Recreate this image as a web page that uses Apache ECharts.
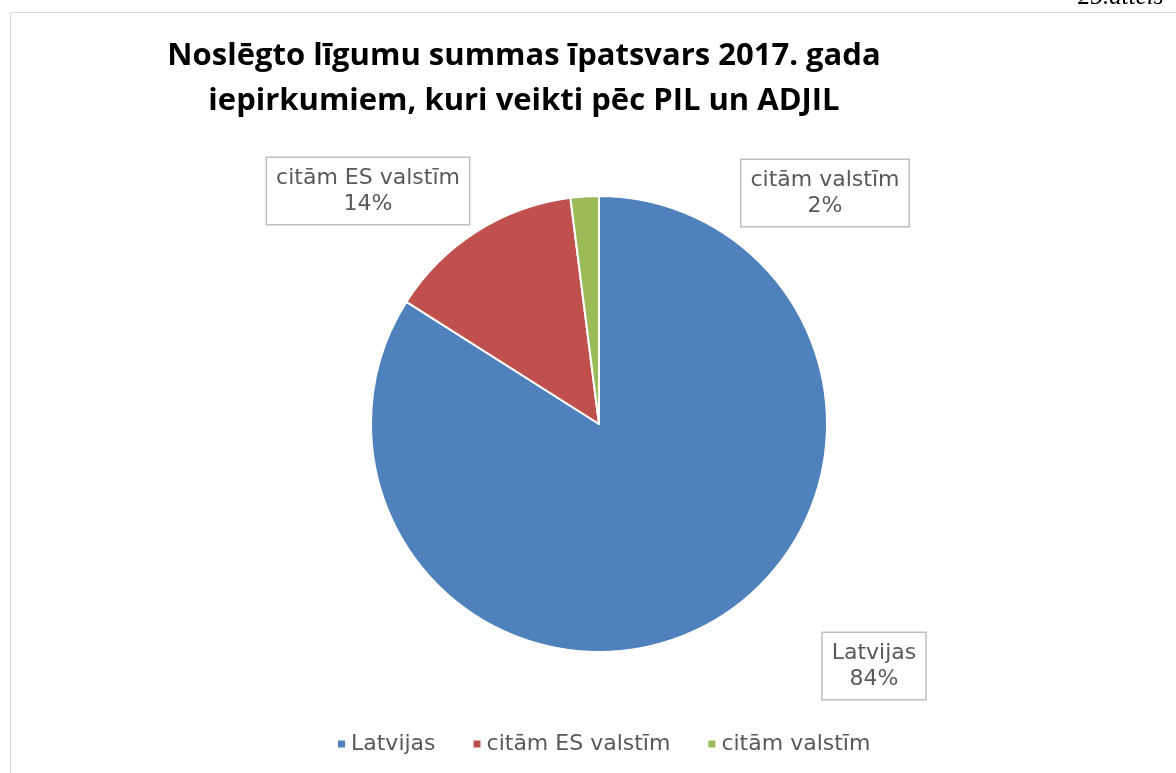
<!DOCTYPE html>
<html>
<head>
<meta charset="utf-8">
<script src="https://cdn.jsdelivr.net/npm/echarts@6/dist/echarts.min.js"></script>
<style>
  html, body { margin: 0; padding: 0; background: #fff; }
  #main { width: 1176px; height: 773px; }
</style>
</head>
<body>
<div id="main"></div>
<script>
// dati no attēla
var categories = ['Latvijas', 'citām ES valstīm', 'citām valstīm'];
var shares = [84, 14, 2];
var colors = ['#4f81bd', '#c0504d', '#9bbb59'];
// etiķešu centri (px)
var labelPos = [[874, 666], [368, 191], [825, 193]];

var labelFont = '"DejaVu Sans", sans-serif';

var myChart = echarts.init(document.getElementById('main'));
myChart.setOption({
  animation: false,
  title: {
    text: 'Noslēgto līgumu summas īpatsvars 2017. gada\niepirkumiem, kuri veikti pēc PIL un ADJIL',
    left: 519,
    top: 29,
    textAlign: 'center',
    textStyle: {
      fontFamily: '"Open Sans", sans-serif',
      fontWeight: 'bold',
      fontSize: 31,
      lineHeight: 45,
      color: '#000'
    }
  },
  legend: {
    bottom: 18,
    left: 336,
    padding: 0,
    icon: 'rect',
    itemWidth: 9,
    itemHeight: 9,
    itemGap: 36,
    data: categories,
    textStyle: { fontFamily: labelFont, fontSize: 22, color: '#595959' }
  },
  graphic: [
    {
      type: 'rect',
      shape: { x: 10.5, y: 12.5, width: 1300, height: 900 },
      style: { fill: 'none', stroke: '#d9d9d9', lineWidth: 1 }
    },
    {
      type: 'text',
      left: 1078,
      top: -15,
      style: { text: '25.attēls', font: 'italic 25px "Liberation Serif", serif', fill: '#000' }
    }
  ],
  series: [
    {
      type: 'pie',
      center: [599, 424],
      radius: 228,
      startAngle: 90,
      clockwise: true,
      color: colors,
      itemStyle: { borderColor: '#fff', borderWidth: 2 },
      label: {
        show: true,
        formatter: '{b}\n{c}%',
        fontFamily: labelFont,
        fontSize: 22,
        lineHeight: 26,
        color: '#595959',
        backgroundColor: '#fff',
        borderColor: '#bfbfbf',
        borderWidth: 1.5,
        padding: [7, 9, 7, 9],
        align: 'center'
      },
      labelLine: { show: false },
      labelLayout: function (params) {
        var p = labelPos[params.dataIndex];
        return { x: p[0], y: p[1], align: 'center', verticalAlign: 'middle' };
      },
      data: categories.map(function (name, i) {
        return { name: name, value: shares[i] };
      })
    }
  ]
});
</script>
</body>
</html>
